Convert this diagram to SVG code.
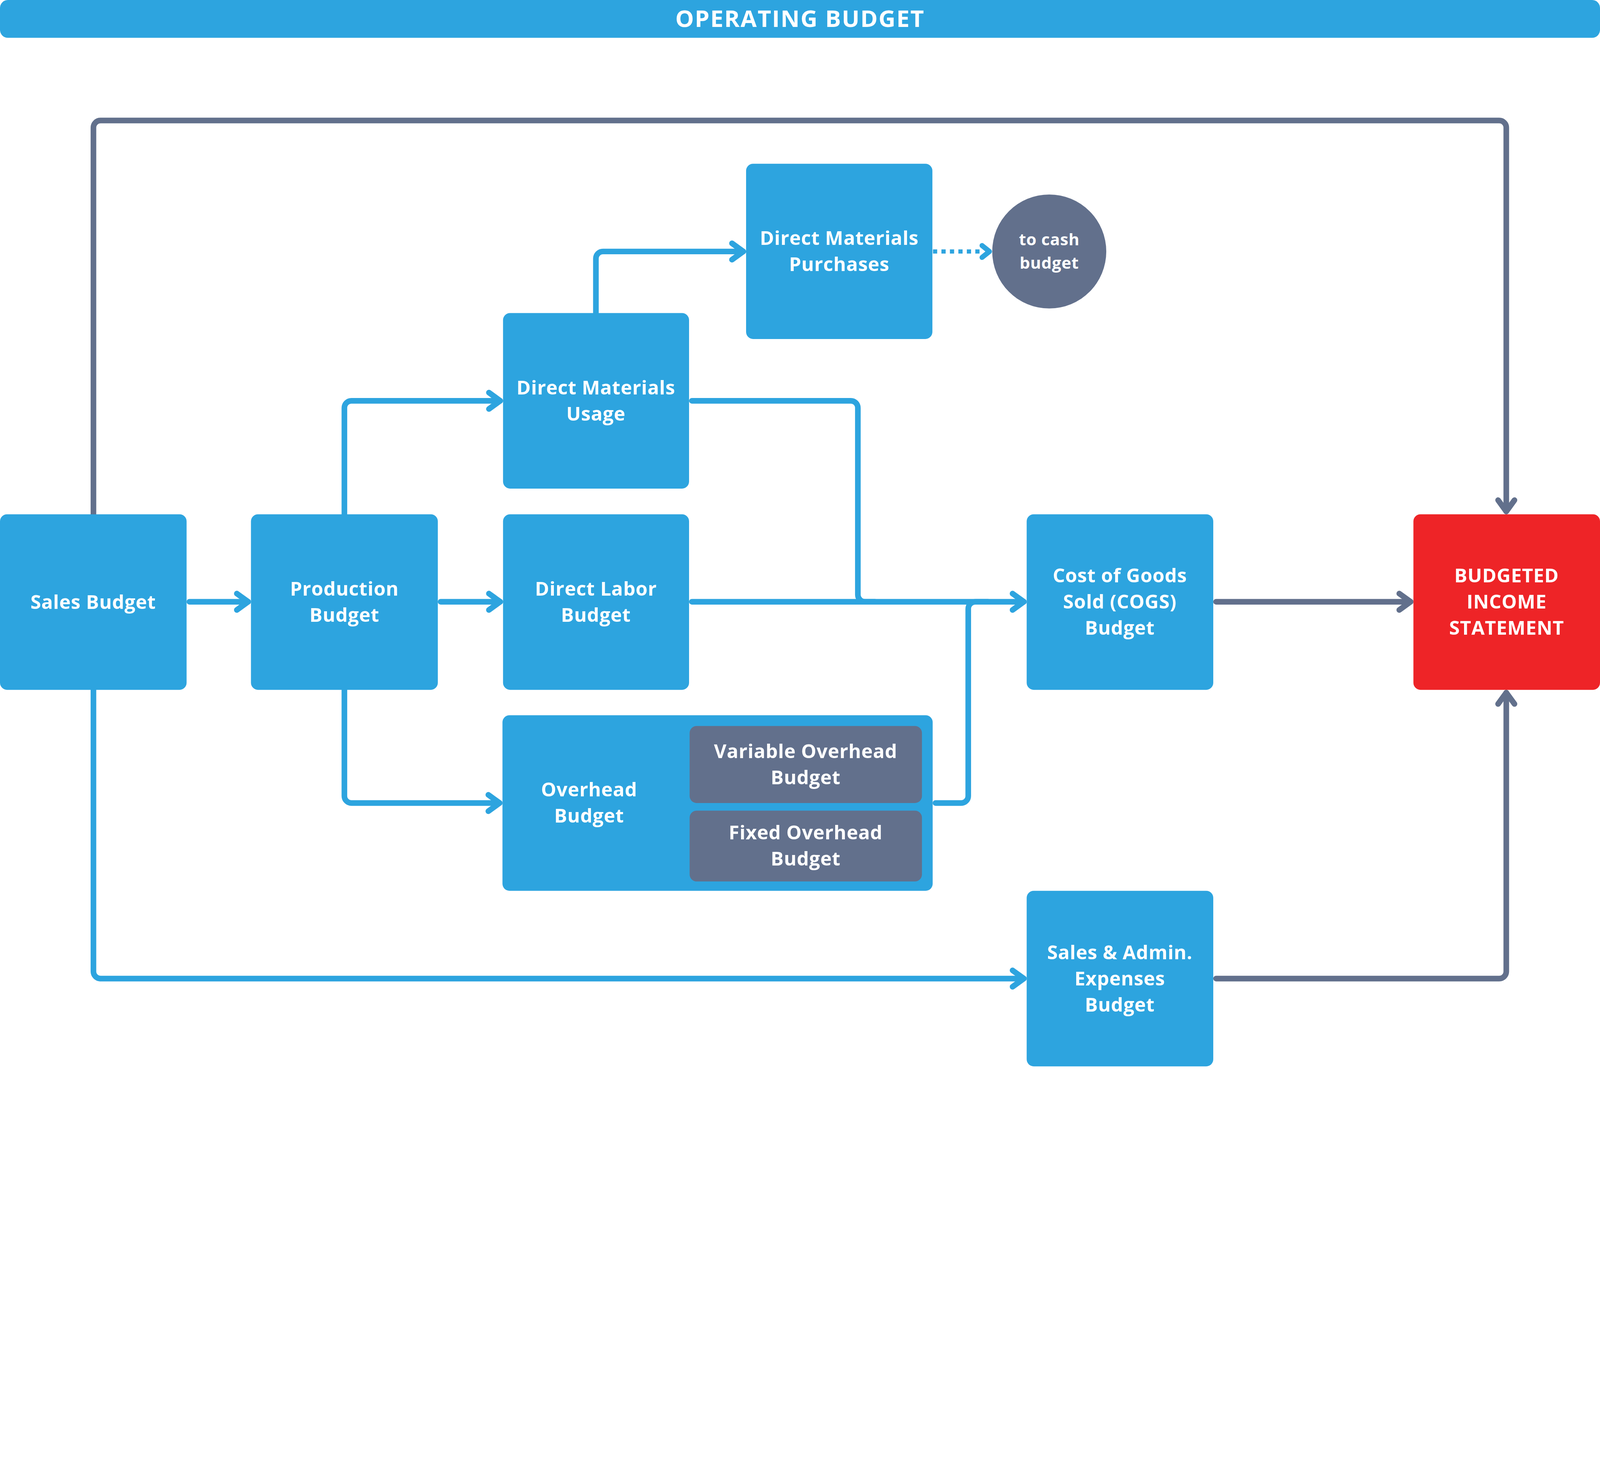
<svg xmlns="http://www.w3.org/2000/svg" width="5668" height="3779" viewBox="0 0 5668 3779" preserveAspectRatio="xMinYMin meet">
<defs>
<style>
svg{width:100vw;height:100vh}
.box{fill:#2DA4DF}
.sub{fill:#62708C}
.red{fill:#EE2427}
.t{fill:#FFFFFF;font-family:"Open Sans","Liberation Sans",sans-serif;font-weight:700;font-size:68px;letter-spacing:1px;text-anchor:middle}
.tt{font-size:83px;letter-spacing:3px}
.ts{font-size:58px;letter-spacing:1px}
.cb{fill:none;stroke:#2DA4DF;stroke-width:20;stroke-linecap:round;stroke-linejoin:round}
.cg{fill:none;stroke:#62708C;stroke-width:20;stroke-linecap:round;stroke-linejoin:round}
.dot{fill:none;stroke:#2DA4DF;stroke-width:15;stroke-dasharray:15 15}
</style>
<marker id="ab" viewBox="-60 -50 80 100" refX="0" refY="0" markerWidth="80" markerHeight="100" markerUnits="userSpaceOnUse" orient="auto">
<path d="M-40,-29 L0,0 L-40,29" fill="none" stroke="#2DA4DF" stroke-width="20" stroke-linecap="round" stroke-linejoin="round"/>
</marker>
<marker id="ag" viewBox="-60 -50 80 100" refX="0" refY="0" markerWidth="80" markerHeight="100" markerUnits="userSpaceOnUse" orient="auto">
<path d="M-40,-29 L0,0 L-40,29" fill="none" stroke="#62708C" stroke-width="20" stroke-linecap="round" stroke-linejoin="round"/>
</marker>
</defs>
<rect width="5668" height="3779" fill="#FFFFFF"/>

<g id="title">
<rect class="box" x="0" y="0" width="5668" height="134" rx="28"/>
<text class="t tt" x="2834" y="95">OPERATING BUDGET</text>
</g>

<g id="connectors">
<path class="cb" d="M671,2132 H879" marker-end="url(#ab)"/>
<path class="cb" d="M1561,2132 H1772" marker-end="url(#ab)"/>
<path class="cb" d="M1220,1822 V1445 A25,25 0 0 1 1245,1420 H1772" marker-end="url(#ab)"/>
<path class="cb" d="M1220,2444 V2820 A25,25 0 0 0 1245,2845 H1770" marker-end="url(#ab)"/>
<path class="cb" d="M2111,1109 V916 A25,25 0 0 1 2136,891 H2633" marker-end="url(#ab)"/>
<path class="dot" d="M3305,891 H3472"/>
<path class="cb" d="M3479,870 L3505,891 L3479,912" style="stroke-width:18"/>
<path class="cb" d="M2451,1420 H3014 A25,25 0 0 1 3039,1445 V2107 A25,25 0 0 0 3064,2132 H3100"/>
<path class="cb" d="M2451,2132 H3627" marker-end="url(#ab)"/>
<path class="cb" d="M3314,2845 H3405 A25,25 0 0 0 3430,2820 V2157 A25,25 0 0 1 3455,2132 H3500"/>
<path class="cg" d="M331,1822 V452 A25,25 0 0 1 356,427 H5311 A25,25 0 0 1 5336,452 V1812" marker-end="url(#ag)"/>
<path class="cb" d="M331,2444 V3442 A25,25 0 0 0 356,3467 H3627" marker-end="url(#ab)"/>
<path class="cg" d="M4308,2132 H4997" marker-end="url(#ag)"/>
<path class="cg" d="M4308,3467 H5311 A25,25 0 0 0 5336,3442 V2454" marker-end="url(#ag)"/>
</g>

<g id="sales-budget">
<rect class="box" x="0" y="1822" width="661" height="622" rx="25"/>
<text class="t" x="330" y="2157">Sales Budget</text>
</g>

<g id="production-budget">
<rect class="box" x="889" y="1822" width="662" height="622" rx="25"/>
<text class="t" x="1220" y="2110">Production</text>
<text class="t" x="1220" y="2203">Budget</text>
</g>

<g id="direct-materials-usage">
<rect class="box" x="1782" y="1109" width="659" height="622" rx="25"/>
<text class="t" x="2111" y="1397">Direct Materials</text>
<text class="t" x="2111" y="1490">Usage</text>
</g>

<g id="direct-materials-purchases">
<rect class="box" x="2643" y="580" width="660" height="621" rx="25"/>
<text class="t" x="2973" y="867">Direct Materials</text>
<text class="t" x="2973" y="960">Purchases</text>
</g>

<g id="to-cash-budget">
<circle class="sub" cx="3717" cy="891" r="202"/>
<text class="t ts" x="3717" y="869">to cash</text>
<text class="t ts" x="3717" y="952">budget</text>
</g>

<g id="direct-labor-budget">
<rect class="box" x="1782" y="1822" width="659" height="622" rx="25"/>
<text class="t" x="2111" y="2110">Direct Labor</text>
<text class="t" x="2111" y="2203">Budget</text>
</g>

<g id="overhead-budget">
<rect class="box" x="1780" y="2534" width="1524" height="622" rx="25"/>
<text class="t" x="2087" y="2821">Overhead</text>
<text class="t" x="2087" y="2914">Budget</text>
</g>

<g id="variable-overhead-budget">
<rect class="sub" x="2443" y="2572" width="823" height="273" rx="25"/>
<text class="t" x="2854" y="2686">Variable Overhead</text>
<text class="t" x="2854" y="2779">Budget</text>
</g>

<g id="fixed-overhead-budget">
<rect class="sub" x="2443" y="2872" width="823" height="251" rx="25"/>
<text class="t" x="2854" y="2974">Fixed Overhead</text>
<text class="t" x="2854" y="3067">Budget</text>
</g>

<g id="cogs-budget">
<rect class="box" x="3637" y="1822" width="661" height="622" rx="25"/>
<text class="t" x="3967" y="2063">Cost of Goods</text>
<text class="t" x="3967" y="2156">Sold (COGS)</text>
<text class="t" x="3967" y="2249">Budget</text>
</g>

<g id="budgeted-income-statement">
<rect class="red" x="5007" y="1822" width="661" height="622" rx="25"/>
<text class="t" x="5337" y="2063">BUDGETED</text>
<text class="t" x="5337" y="2156">INCOME</text>
<text class="t" x="5337" y="2249">STATEMENT</text>
</g>

<g id="sales-admin-expenses-budget">
<rect class="box" x="3637" y="3156" width="661" height="622" rx="25"/>
<text class="t" x="3967" y="3398">Sales &amp; Admin.</text>
<text class="t" x="3967" y="3491">Expenses</text>
<text class="t" x="3967" y="3584">Budget</text>
</g>
</svg>
